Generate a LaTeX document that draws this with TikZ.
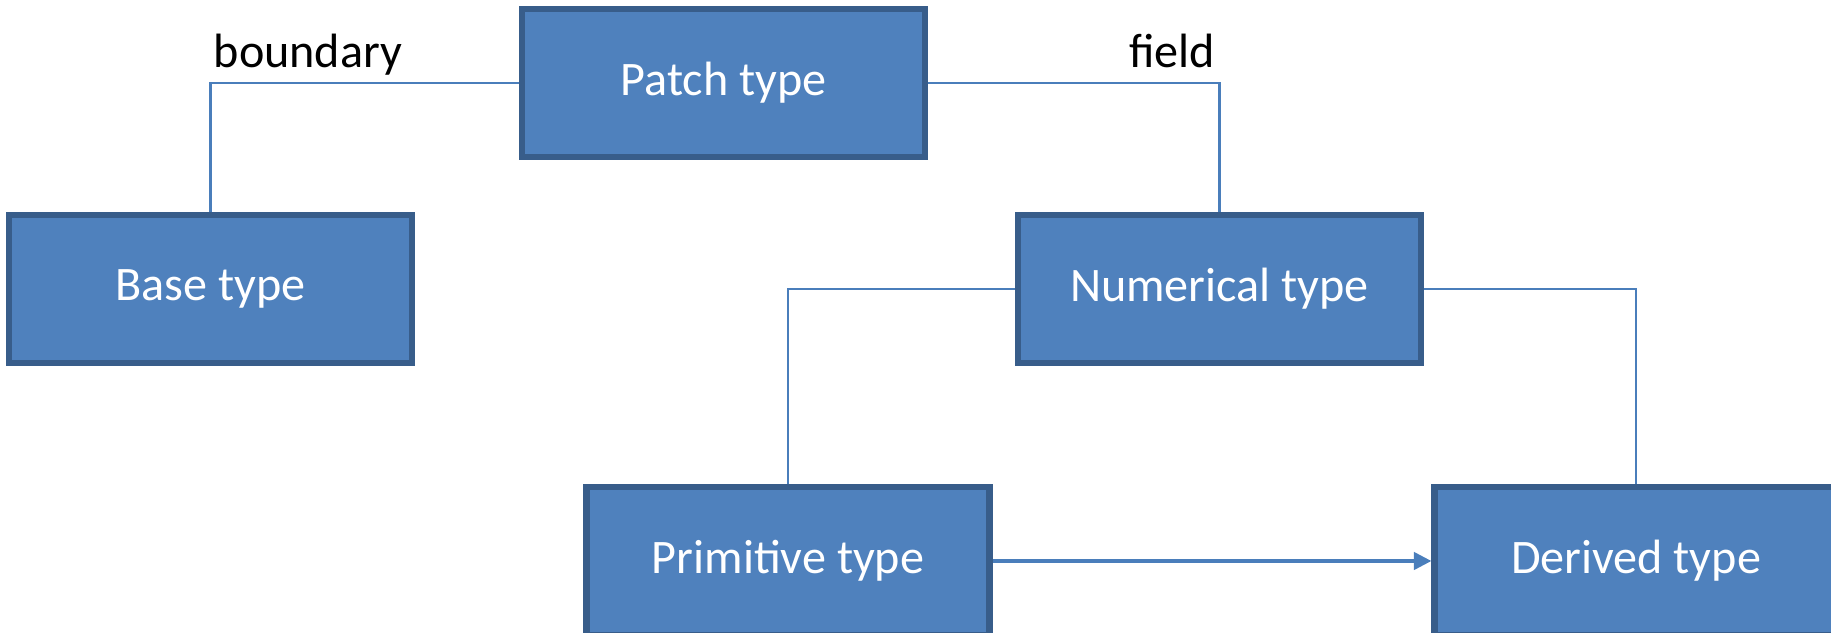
\documentclass[tikz,border=0pt]{standalone}
\usepackage{fontspec}
\setmainfont{Carlito}
\usetikzlibrary{arrows.meta, positioning, calc}

\definecolor{boxfill}{HTML}{4F81BD}
\definecolor{boxline}{HTML}{385D8A}
\definecolor{linkline}{HTML}{4A7EBB}

\begin{document}
\begin{tikzpicture}[
    x=1cm, y=1cm,
    font=\fontsize{13.7}{16}\selectfont,
    type box/.style={
        rectangle,
        draw=boxline,
        fill=boxfill,
        line width=1.8pt,
        minimum width=4.03cm,
        minimum height=1.48cm,
        text=white,
        inner sep=0pt
    },
    link/.style={
        draw=linkline,
        line width=0.6pt
    },
    link label/.style={
        anchor=base,
        text=black,
        inner sep=0pt
    }
]
    \useasboundingbox (0,0) rectangle (18.31,6.33);

    \node[type box] (patch) at (7.235, 5.50) {Patch type};
    \node[type box] (base) at (2.105, 3.44) {Base type};
    \node[type box] (numeric) at (12.195, 3.44) {Numerical type};
    \node[type box] (primitive) at (7.88, 0.72) {Primitive type};
    \node[type box] (derived) at (16.36, 0.72) {Derived type};

    % --- links ---
    \draw[link] (patch.west) -| (base.north);
    \draw[link] (patch.east) -| (numeric.north);
    \draw[link] (numeric.west) -| (primitive.north);
    \draw[link] (numeric.east) -| (derived.north);

    \draw[link, line width=0.9pt, -{Triangle[length=5pt, width=5pt]}]
        (primitive.east) -- (derived.west);

    \node[link label] (boundary) at (3.08, 5.65) {boundary};
    \node[link label] (field) at (11.72, 5.65) {field};

\end{tikzpicture}
\end{document}
